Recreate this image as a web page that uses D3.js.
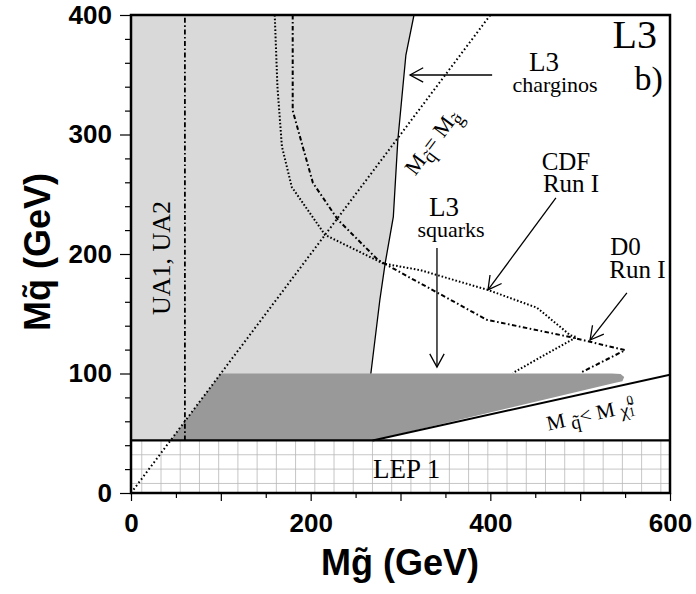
<!DOCTYPE html>
<html>
<head>
<meta charset="utf-8">
<script src="https://cdn.jsdelivr.net/npm/d3@7"></script>
<style>
  body { margin: 0; background: #fff; }
  svg text { font-family: "Liberation Serif", "Times New Roman", serif; fill: #000; }
  .axis text { font-family: "Liberation Sans", Arial, sans-serif; font-weight: bold; font-size: 26px; }
  .axis path { display: none; }
  .axis line { stroke: #000; stroke-width: 1.2; }
  .axis-label { font-family: "Liberation Sans", Arial, sans-serif !important; font-weight: bold; font-size: 36px; }
</style>
</head>
<body>
<svg id="exclusion"></svg>
<script>
/*
		 GLOBAL LAYOUT CONSTANTS
*/
var width = 696;
var height = 594;
var margin = {top: 15, right: 26, bottom: 101, left: 131};

var w = width - margin.left - margin.right;
var h = height - margin.top - margin.bottom;

/*
		 DATA (GeV)
		 each point is [M gluino, M squark]
*/
var xTickValues = [0, 50, 100, 150, 200, 250, 300, 350, 400, 450, 500, 550, 600];
var xTickLabels = [0, 200, 400, 600];
var yTickValues = [0, 20, 40, 60, 80, 100, 120, 140, 160, 180, 200, 220, 240, 260, 280, 300, 320, 340, 360, 380, 400];
var yTickLabels = [0, 100, 200, 300, 400];

var lep1Limit = 44;   // squark mass excluded by LEP 1
var ua12Limit = 60;   // gluino mass excluded by UA1, UA2

var charginoBoundary = [[315, 400], [306, 366.5], [297, 295], [292, 231], [283, 192.5], [277, 161.5], [267, 100]];

var cdfCurve = [[160, 400], [163, 340], [168, 290], [179, 256], [216, 216], [281, 192], [322, 186.5],
                [397, 170], [452, 155], [489, 132], [496, 130.5], [425, 100.5]];

var d0Curve = [[180, 400], [180, 320], [191.5, 289], [202.5, 259.5], [230.5, 228.5], [275, 195], [308.5, 181],
               [322, 175.5], [396, 145], [489, 130.5], [550, 119.5], [500, 100.5]];

var squarkRegion = [[44, 44], [100, 100], [535, 100], [545, 99.5], [549, 97], [547, 93.5], [538, 92], [269, 44]];

var neutralinoLine = [[269, 44], [600, 99]];
var equalMassLine = [[0, 0], [400, 400]];

/*
		 SCALES
*/
var x = d3.scaleLinear().domain([0, 600]).range([0, w]);
var y = d3.scaleLinear().domain([0, 400]).range([h, 0]);

var line = d3.line()
    .x(function(d) { return x(d[0]); })
    .y(function(d) { return y(d[1]); });

var svg = d3.select("#exclusion")
    .attr("width", width)
    .attr("height", height);

svg.append("defs").append("clipPath")
    .attr("id", "plot-clip")
  .append("rect")
    .attr("width", w)
    .attr("height", h);

var chart = svg.append("g")
    .attr("transform", "translate(" + margin.left + "," + margin.top + ")");

var plot = chart.append("g").attr("clip-path", "url(#plot-clip)");

/*
		 EXCLUDED REGIONS
*/
// light grey: UA1/UA2 + L3 charginos, everything left of the chargino boundary
var lightRegion = [[0, lep1Limit], [0, 400]].concat(charginoBoundary)
    .concat([[charginoBoundary[charginoBoundary.length - 1][0], lep1Limit]]);

plot.append("path")
    .attr("d", line(lightRegion) + "Z")
    .style("fill", "#d9d9d9");

// dark grey: L3 squarks
plot.append("path")
    .attr("d", d3.line().curve(d3.curveLinearClosed)
        .x(function(d) { return x(d[0]); })
        .y(function(d) { return y(d[1]); })(squarkRegion))
    .style("fill", "#999999");

// LEP 1 band with its grid
plot.append("rect")
    .attr("x", 0)
    .attr("y", y(lep1Limit))
    .attr("width", w)
    .attr("height", h - y(lep1Limit))
    .style("fill", "#fff");

var lepGrid = plot.append("g").style("stroke", "#b8b8b8").style("stroke-width", 0.8);
d3.range(12, 600, 21.4).forEach(function(v) {
  lepGrid.append("line")
      .attr("x1", x(v)).attr("x2", x(v))
      .attr("y1", y(lep1Limit)).attr("y2", h);
});
[32, 20, 8].forEach(function(v) {
  lepGrid.append("line")
      .attr("x1", 0).attr("x2", w)
      .attr("y1", y(v)).attr("y2", y(v));
});

/*
		 LINES
*/
plot.append("path")
    .attr("d", line(charginoBoundary))
    .style("fill", "none").style("stroke", "#000").style("stroke-width", 1.3);

plot.append("path")
    .attr("d", line(neutralinoLine))
    .style("fill", "none").style("stroke", "#000").style("stroke-width", 2);

plot.append("path")
    .attr("d", line(equalMassLine))
    .style("fill", "none").style("stroke", "#000").style("stroke-width", 2)
    .style("stroke-dasharray", "1.6,2.6");

plot.append("path")
    .attr("d", line([[ua12Limit, lep1Limit], [ua12Limit, 400]]))
    .style("fill", "none").style("stroke", "#000").style("stroke-width", 1.8)
    .style("stroke-dasharray", "5,2.5,1.6,2.5");

plot.append("path")
    .attr("d", line(cdfCurve))
    .style("fill", "none").style("stroke", "#000").style("stroke-width", 2)
    .style("stroke-dasharray", "1.6,2");

plot.append("path")
    .attr("d", line(d0Curve))
    .style("fill", "none").style("stroke", "#000").style("stroke-width", 2)
    .style("stroke-dasharray", "4.5,2.5,1.6,2.5");

// LEP 1 upper edge
chart.append("line")
    .attr("x1", 0).attr("x2", w)
    .attr("y1", y(lep1Limit)).attr("y2", y(lep1Limit))
    .style("stroke", "#000").style("stroke-width", 2.2);

/*
		 ARROWS
*/
function drawArrow(from, to) {
  var x1 = x(from[0]), y1 = y(from[1]), x2 = x(to[0]), y2 = y(to[1]);
  var a = Math.atan2(y2 - y1, x2 - x1);
  var len = 15, spread = 0.5;
  var g = chart.append("g").style("stroke", "#000").style("stroke-width", 1.3).style("fill", "none");
  g.append("line").attr("x1", x1).attr("y1", y1).attr("x2", x2).attr("y2", y2);
  g.append("path").attr("d",
      "M" + (x2 - len * Math.cos(a - spread)) + "," + (y2 - len * Math.sin(a - spread)) +
      "L" + x2 + "," + y2 +
      "L" + (x2 - len * Math.cos(a + spread)) + "," + (y2 - len * Math.sin(a + spread)));
}

drawArrow([402, 349.8], [310.6, 349.8]);   // L3 charginos
drawArrow([473, 247], [397.4, 170]);       // CDF
drawArrow([552, 167.4], [511, 128]);       // D0
drawArrow([340.6, 205], [340.6, 105.4]);   // L3 squarks

/*
		 LABELS
*/
function label(txt, gx, gy, size, anchor) {
  return chart.append("text")
      .attr("x", x(gx)).attr("y", y(gy))
      .style("font-size", size + "px")
      .style("text-anchor", anchor || "middle")
      .text(txt);
}

label("L3", 585.5, 372.4, 40, "end");
label("b)", 592, 337.2, 34, "end");
label("L3", 459.8, 353, 27);
label("charginos", 472, 335.6, 22);
label("CDF", 484.2, 270.3, 25);
label("Run I", 489.8, 251.9, 25);
label("L3", 348.4, 231.5, 27);
label("squarks", 356.2, 214.2, 22);
label("D0", 550.5, 199.2, 25);
label("Run I", 563.8, 179.9, 25);
label("LEP 1", 269.4, 12.6, 27, "start");

chart.append("text")
    .attr("transform", "translate(" + (x(ua12Limit) - 15) + "," + (258 - margin.top) + ") rotate(-90)")
    .style("font-size", "26px")
    .style("text-anchor", "middle")
    .text("UA1, UA2");

// M squark = M gluino along the diagonal
var diagAngle = Math.atan2(y(400) - y(0), x(400) - x(0)) * 180 / Math.PI;
var eq = chart.append("text")
    .attr("transform", "translate(" + (438 - margin.left) + "," + (146 - margin.top) + ") rotate(" + diagAngle + ")")
    .style("font-size", "22px")
    .style("text-anchor", "middle");
eq.append("tspan").text("M");
eq.append("tspan").attr("dy", 6).style("font-size", "19px").text("q\u0303");
eq.append("tspan").attr("dy", -6).text("= M");
eq.append("tspan").attr("dy", 6).style("font-size", "19px").text("g\u0303");

// M squark < M neutralino along the lower line
var slopeAngle = Math.atan2(y(neutralinoLine[1][1]) - y(neutralinoLine[0][1]),
                            x(neutralinoLine[1][0]) - x(neutralinoLine[0][0])) * 180 / Math.PI;
var lt = chart.append("text")
    .attr("transform", "translate(" + (592 - margin.left) + "," + (421 - margin.top) + ") rotate(" + slopeAngle + ")")
    .style("font-size", "21px")
    .style("text-anchor", "middle");
lt.append("tspan").text("M ");
lt.append("tspan").attr("dy", 4).style("font-size", "19px").text("q\u0303");
lt.append("tspan").attr("dy", -4).text("< M ");
lt.append("tspan").attr("dy", 3).style("font-size", "19px").text("\u03c7\u0303");
lt.append("tspan").attr("dy", -11).style("font-size", "13px").text("0");
lt.append("tspan").attr("dx", -7).attr("dy", 12).style("font-size", "13px").text("1");

/*
		 AXES
*/
var xAxis = chart.append("g")
    .attr("class", "axis")
    .attr("transform", "translate(0," + h + ")")
    .call(d3.axisBottom(x)
        .tickValues(xTickValues)
        .tickSize(6)
        .tickPadding(15)
        .tickFormat(function(d) { return xTickLabels.indexOf(d) >= 0 ? d : ""; }));
xAxis.selectAll(".tick line")
    .attr("y2", function(d) { return d % 100 == 0 ? 8 : 5; });

var yAxis = chart.append("g")
    .attr("class", "axis")
    .call(d3.axisLeft(y)
        .tickValues(yTickValues)
        .tickSize(11)
        .tickPadding(8)
        .tickFormat(function(d) { return yTickLabels.indexOf(d) >= 0 ? d : ""; }));
yAxis.selectAll(".tick line")
    .attr("x2", function(d) { return d % 100 == 0 ? -11 : -6; });

// frame
chart.append("rect")
    .attr("width", w)
    .attr("height", h)
    .style("fill", "none")
    .style("stroke", "#000")
    .style("stroke-width", 2.5);

svg.append("text")
    .attr("class", "axis-label")
    .attr("x", 400).attr("y", 575)
    .style("text-anchor", "middle")
    .text("Mg\u0303 (GeV)");

svg.append("text")
    .attr("class", "axis-label")
    .attr("transform", "translate(50,252) rotate(-90)")
    .style("text-anchor", "middle")
    .text("Mq\u0303 (GeV)");

console.log("Drawn");
</script>
</body>
</html>
